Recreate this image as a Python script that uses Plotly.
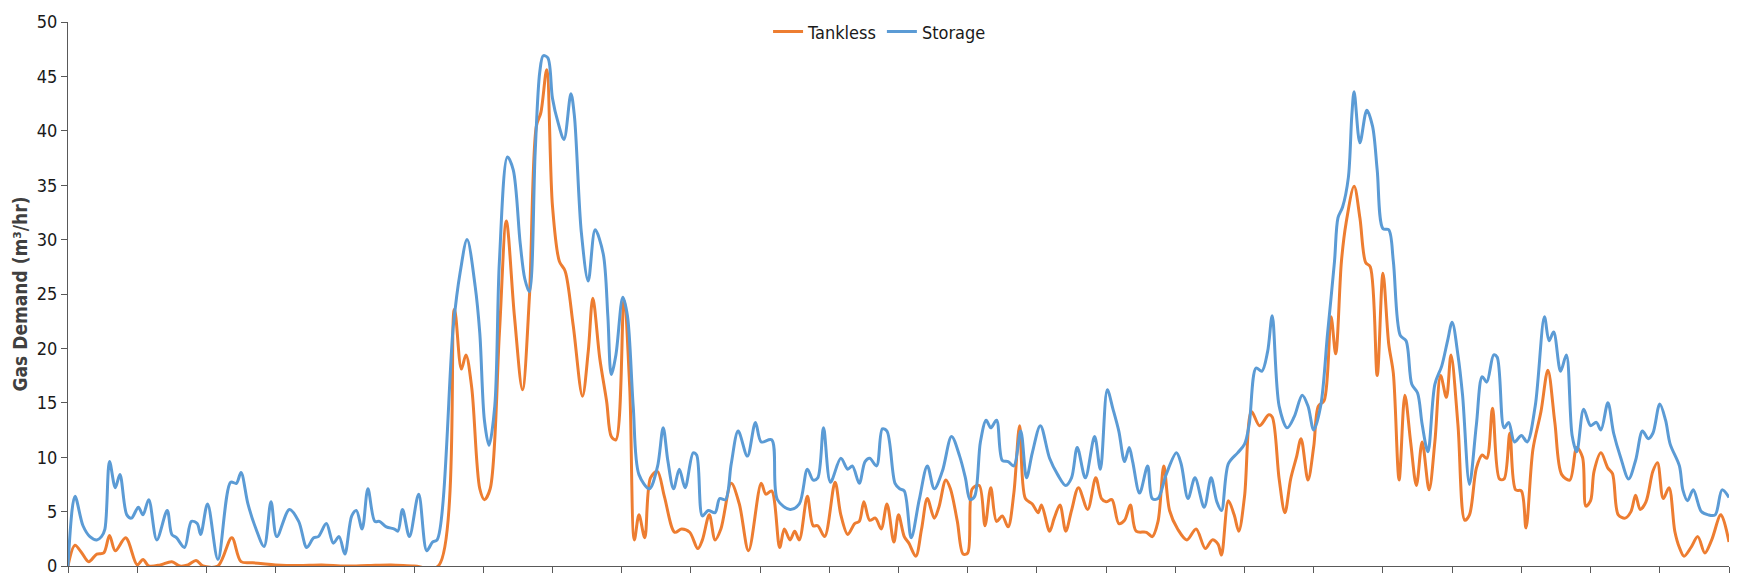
import plotly.graph_objects as go

# Time of day in minutes since midnight, gas demand in m3/hr
storage_min = [
    0, 6, 13, 19, 25, 29, 32, 36, 41, 45, 51, 55, 61, 65, 70, 77, 86, 90, 94, 101,
    107, 112, 115, 121, 130, 141, 146, 150, 156, 163, 170, 176, 181, 192, 200, 207,
    213, 217, 224, 230, 235, 240, 246, 250, 255, 260, 266, 270, 276, 283, 286, 290,
    296, 304, 311, 316, 320, 334, 340, 346, 353, 357, 361, 365, 370, 374, 381, 386,
    392, 396, 400, 405, 409, 412, 416, 420, 425, 430, 436, 439, 445, 451, 457, 464,
    468, 471, 475, 481, 485, 490, 495, 504, 511, 516, 520, 525, 530, 535, 542, 545,
    550, 555, 561, 565, 570, 575, 581, 589, 596, 601, 610, 615, 626, 634, 641, 646,
    650, 655, 661, 670, 676, 680, 686, 691, 695, 701, 706, 710, 717, 721, 725, 731,
    738, 745, 751, 758, 766, 773, 778, 782, 786, 791, 796, 800, 805, 810, 815, 820,
    826, 831, 836, 843, 851, 858, 865, 870, 875, 882, 890, 895, 901, 906, 911, 916,
    920, 923, 929, 936, 940, 945, 952, 961, 965, 971, 977, 985, 991, 996, 1000, 1006,
    1014, 1020, 1024, 1030, 1035, 1040, 1044, 1050, 1057, 1063, 1070, 1075, 1080,
    1086, 1092, 1098, 1101, 1105, 1110, 1113, 1115, 1120, 1126, 1131, 1135, 1140,
    1145, 1149, 1155, 1160, 1165, 1170, 1174, 1179, 1185, 1191, 1196, 1200, 1205,
    1209, 1215, 1221, 1226, 1230, 1236, 1239, 1245, 1249, 1254, 1260, 1265, 1272,
    1280, 1284, 1288, 1294, 1299, 1304, 1308, 1314, 1320, 1325, 1329, 1335, 1340,
    1346, 1353, 1359, 1365, 1370, 1374, 1380, 1385, 1389, 1397, 1400, 1404, 1409,
    1416, 1422, 1428, 1434, 1440,
]
storage_val = [
    0, 6.4, 3.7, 2.7, 2.4, 2.7, 3.4, 9.6, 7.2, 8.4, 4.7, 4.4, 5.4, 4.7, 6.1, 2.4, 5.1, 2.9, 2.6, 1.7,
    4.1, 3.9, 2.9, 5.7, 0.6, 7.7, 7.6, 8.6, 5.7, 3.4, 1.8, 5.9, 2.7, 5.2, 4.1, 1.7,
    2.6, 2.7, 3.9, 2.1, 2.7, 1.1, 4.6, 5.1, 3.4, 7.1, 4.1, 4.1, 3.6, 3.4, 3.2, 5.2,
    2.7, 6.6, 1.4, 2.2, 2.4, 22.0, 27.0, 30.0, 25.7, 21.4, 13.4, 11.1, 14.7, 28.0, 37.6, 36.4,
    29.7, 26.4, 25.2, 38.0, 45.4, 46.9, 46.7, 43.0, 40.7, 39.2, 43.4, 41.4, 30.7, 26.2, 30.9, 28.7,
    23.0, 17.6, 19.4, 24.7, 23.0, 14.7, 8.4, 7.1, 9.1, 12.7, 9.7, 7.1, 8.9, 7.2, 10.4, 10.2,
    4.6, 5.1, 4.9, 6.2, 6.1, 9.4, 12.4, 10.1, 13.2, 11.4, 11.6, 6.1, 5.2, 5.7, 8.9, 7.9,
    8.1, 12.7, 7.7, 9.9, 8.9, 9.2, 7.6, 9.6, 9.9, 9.2, 12.6, 12.4, 7.6, 7.1, 6.9, 2.6,
    6.1, 9.2, 7.1, 8.7, 11.9, 10.1, 8.1, 6.1, 6.4, 11.4, 13.4, 12.7, 13.4, 9.7, 9.6, 9.2,
    12.4, 8.1, 10.4, 12.9, 9.9, 8.4, 7.4, 8.1, 10.9, 8.1, 11.9, 8.9, 16.2, 14.4, 12.4, 9.6,
    10.9, 9.6, 6.7, 9.2, 6.2, 6.2, 8.4, 10.4, 9.4, 6.2, 8.1, 5.4, 8.1, 5.9, 5.1, 9.4,
    10.4, 11.2, 13.0, 18.2, 17.9, 19.7, 23.0, 14.7, 12.7, 13.7, 15.7, 14.7, 12.5,
    14.7, 21.4, 28.0, 32.0, 33.0, 35.7, 41.4, 43.6, 38.9, 41.9, 40.4, 36.4, 31.0,
    30.9, 28.0, 21.2, 20.7, 16.7, 15.9, 13.0, 10.5, 16.7, 18.4, 20.7, 22.4, 19.4,
    15.7, 7.5, 13.0, 17.4, 16.9, 19.4, 19.2, 12.7, 13.2, 11.4, 12.0, 11.4, 14.7,
    22.9, 20.7, 21.5, 17.9, 19.4, 12.0, 10.5, 14.4, 12.9, 13.2, 12.5, 15.0, 12.2,
    10.0, 8.0, 9.7, 12.4, 11.7, 12.2, 14.9, 13.4, 11.2, 9.2, 7.0, 6.0, 7.0,
    5.0, 4.7, 4.7, 7.0, 6.3,
]

tankless_min = [
    0, 6, 12, 18, 25, 31, 36, 41, 50, 60, 65, 70, 80, 90, 97, 104, 111, 117, 130, 142,
    150, 160, 169, 180, 200, 220, 240, 260, 280, 300, 321, 335, 341, 345, 350, 357,
    361, 366, 374, 380, 387, 394, 400, 406, 410, 415, 420, 426, 431, 438, 446, 451,
    455, 461, 467, 471, 475, 482, 487, 491, 495, 500, 505, 511, 517, 526, 532, 539,
    546, 550, 556, 561, 566, 575, 582, 590, 601, 605, 610, 617, 621, 626, 630, 634,
    641, 646, 650, 656, 665, 670, 676, 682, 686, 690, 695, 700, 705, 710, 716, 720,
    725, 729, 735, 740, 745, 751, 755, 761, 765, 771, 776, 780, 784, 790, 795, 800,
    805, 810, 815, 820, 825, 830, 836, 841, 844, 851, 855, 860, 865, 870, 876, 884,
    891, 896, 900, 905, 911, 916, 921, 926, 935, 940, 945, 950, 955, 962, 970, 978,
    986, 992, 997, 1000, 1006, 1011, 1015, 1020, 1026, 1033, 1041, 1044, 1050, 1055,
    1060, 1065, 1069, 1075, 1080, 1084, 1089, 1095, 1099, 1104, 1108, 1115, 1120,
    1125, 1129, 1135, 1140, 1145, 1149, 1154, 1159, 1164, 1169, 1174, 1180, 1185,
    1190, 1195, 1199, 1205, 1211, 1215, 1221, 1226, 1230, 1235, 1241, 1245, 1250,
    1255, 1260, 1264, 1270, 1277, 1283, 1289, 1295, 1302, 1308, 1313, 1316, 1320,
    1323, 1329, 1335, 1339, 1344, 1350, 1355, 1359, 1363, 1368, 1374, 1378, 1383,
    1388, 1393, 1397, 1401, 1407, 1413, 1419, 1425, 1433, 1440,
]
tankless_val = [
    0, 1.9, 1.2, 0.4, 1.1, 1.2, 2.8, 1.4, 2.6, 0.1, 0.6, 0, 0.1, 0.4, 0, 0.1, 0.5, 0, 0, 2.6,
    0.4, 0.3, 0.2, 0.1, 0.05, 0.1, 0, 0.05, 0.1, 0, 0, 23.6, 18.1, 19.4, 16.4, 7.1,
    6.1, 7.1, 21.4, 31.7, 23.0, 16.2, 24.7, 40.4, 41.7, 45.6, 33.1, 28.0, 27.1, 22.1, 15.6, 19.7,
    24.6, 19.1, 15.1, 11.9, 11.6, 24.4, 16.4, 2.4, 4.7, 2.6, 8.1, 8.7, 6.4, 3.1, 3.4, 3.1,
    1.6, 2.4, 4.7, 2.4, 3.4, 7.6, 5.7, 1.4, 7.6, 6.6, 6.9, 1.7, 3.4, 2.4, 3.2, 2.4,
    6.4, 3.7, 3.7, 2.7, 7.7, 4.7, 2.9, 3.9, 4.1, 5.9, 4.2, 4.4, 3.4, 5.7, 2.2, 4.7,
    2.7, 2.1, 0.9, 3.4, 6.2, 4.4, 5.4, 7.9, 7.1, 4.1, 1.1, 1.2, 7.1, 7.4, 3.7, 7.2,
    4.1, 4.6, 3.6, 6.7, 12.9, 6.2, 5.7, 4.9, 5.6, 3.2, 4.4, 5.6, 3.2, 5.1, 7.2, 5.2,
    8.1, 6.2, 5.9, 6.1, 3.9, 4.2, 5.6, 3.2, 3.1, 2.7, 4.1, 9.2, 5.1, 3.4, 2.4, 3.4,
    1.6, 2.4, 2.0, 1.0, 6.0, 4.7, 3.2, 6.4, 14.2, 12.9, 13.9, 13.7, 8.0, 4.9,
    8.0, 10.0, 11.7, 7.9, 11.0, 14.7, 15.2, 22.9, 19.5, 28.0, 31.5, 34.9, 32.0,
    27.9, 27.5, 17.5, 26.9, 20.4, 17.7, 7.9, 15.7, 11.4, 7.4, 11.4, 7.0, 11.4,
    17.5, 15.5, 19.4, 13.0, 4.2, 4.7, 9.0, 10.2, 9.9, 14.5, 8.0, 8.0, 12.2,
    7.0, 6.9, 3.5, 10.7, 14.2, 18.0, 13.2, 8.4, 7.9, 10.9, 10.0, 5.5, 6.0,
    8.7, 10.4, 9.0, 8.5, 4.7, 4.4, 5.0, 6.5, 5.2, 5.9, 8.7, 9.5, 6.2,
    7.2, 3.2, 1.7, 0.9, 1.7, 2.7, 1.2, 2.4, 4.7, 2.2,
]

hour_ticks = list(range(0, 1441, 60))

FONT = "Liberation Sans Narrow, DejaVu Sans Condensed, Arial Narrow, sans-serif"
AXIS_COLOR = "#595959"

fig = go.Figure()
fig.add_trace(go.Scatter(
    x=tankless_min, y=tankless_val, name="Tankless", mode="lines",
    line=dict(color="#ED7D31", width=3, shape="spline", smoothing=0.9),
))
fig.add_trace(go.Scatter(
    x=storage_min, y=storage_val, name="Storage", mode="lines",
    line=dict(color="#5B9BD5", width=3, shape="spline", smoothing=0.9),
))

fig.update_layout(
    width=1746, height=587,
    margin=dict(l=68, r=17, t=13, b=11),
    plot_bgcolor="white", paper_bgcolor="white",
    font=dict(family=FONT, size=18, color="#1a1a1a"),
    showlegend=True,
    legend=dict(
        orientation="h", x=0.4886, xanchor="center", y=0.982, yanchor="middle",
        font=dict(family=FONT, size=18, color="#1a1a1a"),
        bgcolor="rgba(0,0,0,0)", itemwidth=30,
    ),
    xaxis=dict(
        range=[0, 1440], tickmode="array", tickvals=hour_ticks,
        showticklabels=False, ticks="outside", ticklen=6, tickwidth=1,
        tickcolor=AXIS_COLOR, showline=True, linecolor=AXIS_COLOR, linewidth=1,
        showgrid=False, zeroline=False,
    ),
    yaxis=dict(
        range=[0, 50], dtick=5, tick0=0, ticks="outside", ticklen=6, tickwidth=1,
        tickcolor=AXIS_COLOR, showline=True, linecolor=AXIS_COLOR, linewidth=1,
        showgrid=False, zeroline=False,
        tickfont=dict(family=FONT, size=18, color="#1a1a1a"),
        title=dict(text="<b>Gas Demand (m³/hr)</b>",
                   font=dict(family=FONT, size=19, color="#404040"), standoff=4),
    ),
)

fig.write_html("out.html")
